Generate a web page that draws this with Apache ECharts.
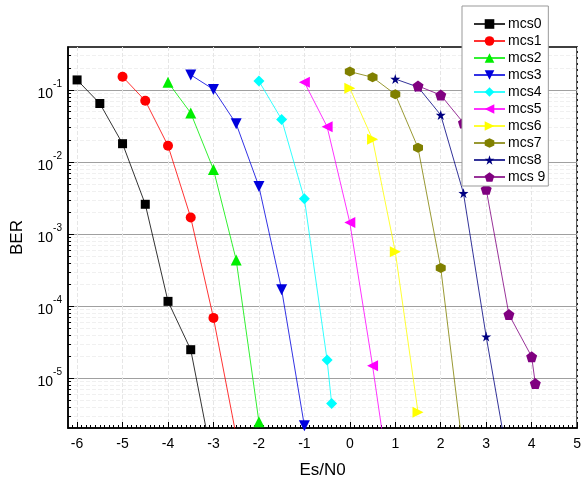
<!DOCTYPE html>
<html>
<head>
<meta charset="utf-8">
<script src="https://cdn.jsdelivr.net/npm/echarts@6/dist/echarts.min.js"></script>
<style>
  html, body { margin: 0; padding: 0; background: #fff; }
  #chart { width: 584px; height: 484px; }
</style>
</head>
<body>
<div id="chart"></div>
<script>
  // x ticks / y decades
  var xTicks = [-6, -5, -4, -3, -2, -1, 0, 1, 2, 3, 4, 5];
  var yDecades = [1e-5, 1e-4, 1e-3, 1e-2, 1e-1];

  // BER curves (points below 2e-6 are clipped)
  var mcs0X = [-6, -5.5, -5, -4.5, -4, -3.5, -3];
  var mcs0Y = [0.138, 0.065, 0.018, 0.0026, 1.17e-4, 2.5e-5, 6e-7];
  var mcs1X = [-5, -4.5, -4, -3.5, -3, -2.5];
  var mcs1Y = [0.153, 0.071, 0.0169, 0.0017, 6.9e-5, 1.6e-6];
  var mcs2X = [-4, -3.5, -3, -2.5, -2];
  var mcs2Y = [0.128, 0.048, 0.0079, 4.4e-4, 2.5e-6];
  var mcs3X = [-3.5, -3, -2.5, -2, -1.5, -1];
  var mcs3Y = [0.162, 0.102, 0.034, 0.0046, 1.7e-4, 2.2e-6];
  var mcs4X = [-2, -1.5, -1, -0.5, -0.4];
  var mcs4Y = [0.133, 0.039, 0.0031, 1.8e-5, 4.5e-6];
  var mcs5X = [-1, -0.5, 0, 0.5, 1];
  var mcs5Y = [0.128, 0.031, 0.00145, 1.5e-5, 1e-7];
  var mcs6X = [0, 0.5, 1, 1.5];
  var mcs6Y = [0.106, 0.0207, 5.7e-4, 3.4e-6];
  var mcs7X = [0, 0.5, 1, 1.5, 2, 2.5];
  var mcs7Y = [0.18, 0.15, 0.087, 0.0158, 3.4e-4, 8.8e-7];
  var mcs8X = [1, 1.5, 2, 2.5, 3, 3.5];
  var mcs8Y = [0.142, 0.11, 0.045, 0.0037, 3.8e-5, 6e-7];
  var mcs9X = [1.5, 2, 2.5, 3, 3.5, 4, 4.08];
  var mcs9Y = [0.114, 0.085, 0.035, 0.0042, 7.7e-5, 2.0e-5, 8.5e-6];

  var FONT = "'Liberation Sans', Arial, sans-serif";
  var HEX = 'path://M0,-10 L8.66,-5 L8.66,5 L0,10 L-8.66,5 L-8.66,-5 Z';
  var STAR = 'path://M0,-10 L2.245,-3.09 L9.51,-3.09 L3.633,1.18 L5.878,8.09 L0,3.82 L-5.878,8.09 L-3.633,1.18 L-9.51,-3.09 L-2.245,-3.09 Z';
  var PENT = 'path://M0,-10 L9.51,-3.09 L5.878,8.09 L-5.878,8.09 L-9.51,-3.09 Z';

  function zip(xs, ys) {
    return xs.map(function (x, i) { return [x, ys[i]]; });
  }

  // minor ticks: tenths on x, 2..9 per decade on y
  var xMinor = [-6.1];
  for (var i = 0; i < xTicks.length - 1; i++) {
    for (var k = 1; k < 10; k++) xMinor.push(xTicks[i] + k / 10);
  }
  var yMinor = [];
  [1e-6, 1e-5, 1e-4, 1e-3, 1e-2, 1e-1].forEach(function (d) {
    for (var m = 2; m < 10; m++) yMinor.push(d * m);
  });

  function line(name, xs, ys, color, symbol, size, rotate) {
    return {
      name: name,
      type: 'line',
      data: zip(xs, ys),
      symbol: symbol,
      symbolSize: size,
      symbolRotate: rotate || 0,
      itemStyle: { color: color },
      lineStyle: { color: color, width: 1, opacity: 0.8 },
      emphasis: { disabled: true },
      z: 3
    };
  }

  var chart = echarts.init(document.getElementById('chart'));
  var option = {
    animation: false,
    backgroundColor: '#fff',
    textStyle: { fontFamily: FONT },
    grid: {
      left: 68, right: 5, top: 47, bottom: 56,
      show: true, borderColor: '#000', borderWidth: 1.5
    },
    legend: {
      orient: 'vertical',
      left: 462, top: 6,
      padding: [11, 3, 2, 11],
      itemWidth: 31, itemHeight: 12, itemGap: 3,
      backgroundColor: '#fff',
      borderColor: '#999', borderWidth: 1,
      textStyle: { fontSize: 14, color: '#000', fontFamily: FONT, padding: [0, 0, 0, -2] },
      data: ['mcs0', 'mcs1', 'mcs2', 'mcs3', 'mcs4', 'mcs5', 'mcs6', 'mcs7', 'mcs8', 'mcs 9']
    },
    xAxis: [{
      type: 'value', min: -6.2, max: 5,
      position: 'bottom',
      axisLine: { onZero: false, lineStyle: { color: '#000', width: 1.5 } },
      axisTick: { inside: true, length: 6, customValues: xTicks, lineStyle: { color: '#000' } },
      axisLabel: { customValues: xTicks, fontSize: 14, color: '#000', margin: 9, fontFamily: FONT },
      splitLine: { show: true, lineStyle: { color: '#e6e6e6', type: 'dashed' } },
      name: 'Es/N0', nameLocation: 'middle', nameGap: 34,
      nameTextStyle: { fontSize: 17, color: '#000', fontFamily: FONT }
    }, {
      type: 'value', min: -6.2, max: 5,
      position: 'bottom',
      axisLine: { show: false, onZero: false },
      axisTick: { inside: true, length: 3, customValues: xMinor, lineStyle: { color: '#000' } },
      axisLabel: { show: false },
      splitLine: { show: false }
    }],
    yAxis: [{
      type: 'log', logBase: 10, min: 2.05e-6, max: 0.395,
      position: 'left',
      axisLine: { onZero: false, lineStyle: { color: '#000', width: 1.5 } },
      axisTick: { inside: true, length: 6, customValues: yDecades, lineStyle: { color: '#000' } },
      axisLabel: {
        customValues: yDecades, margin: 6, color: '#000',
        formatter: function (v) {
          return '{b|10}{s|' + Math.round(Math.log10(v)) + '}';
        },
        rich: {
          b: { fontSize: 14, fontFamily: FONT, color: '#000', lineHeight: 22, verticalAlign: 'bottom' },
          s: { fontSize: 10, fontFamily: FONT, color: '#000', verticalAlign: 'top', lineHeight: 10 }
        }
      },
      splitLine: { show: true, lineStyle: { color: '#a0a0a0', width: 1 } },
      name: 'BER', nameLocation: 'middle', nameGap: 42, nameRotate: 90,
      nameTextStyle: { fontSize: 17, color: '#000', fontFamily: FONT }
    }, {
      type: 'log', logBase: 10, min: 2.05e-6, max: 0.395,
      position: 'left',
      axisLine: { show: false, onZero: false },
      axisTick: { inside: true, length: 3, customValues: yMinor, lineStyle: { color: '#000' } },
      axisLabel: { show: false },
      splitLine: { show: true, lineStyle: { color: '#f0f0f0', type: 'dashed' } }
    }],
    series: [
      line('mcs0', mcs0X, mcs0Y, '#000000', 'rect', 9),
      line('mcs1', mcs1X, mcs1Y, '#ff0000', 'circle', 10),
      line('mcs2', mcs2X, mcs2Y, '#00ee00', 'triangle', 11),
      line('mcs3', mcs3X, mcs3Y, '#0000dd', 'triangle', 11, 180),
      line('mcs4', mcs4X, mcs4Y, '#00ffff', 'diamond', 11),
      line('mcs5', mcs5X, mcs5Y, '#ff00ff', 'triangle', 11, 90),
      line('mcs6', mcs6X, mcs6Y, '#ffff00', 'triangle', 11, -90),
      line('mcs7', mcs7X, mcs7Y, '#808000', HEX, 10),
      line('mcs8', mcs8X, mcs8Y, '#000080', STAR, 10),
      line('mcs 9', mcs9X, mcs9Y, '#800080', PENT, 11)
    ]
  };
  chart.setOption(option);
</script>
</body>
</html>
